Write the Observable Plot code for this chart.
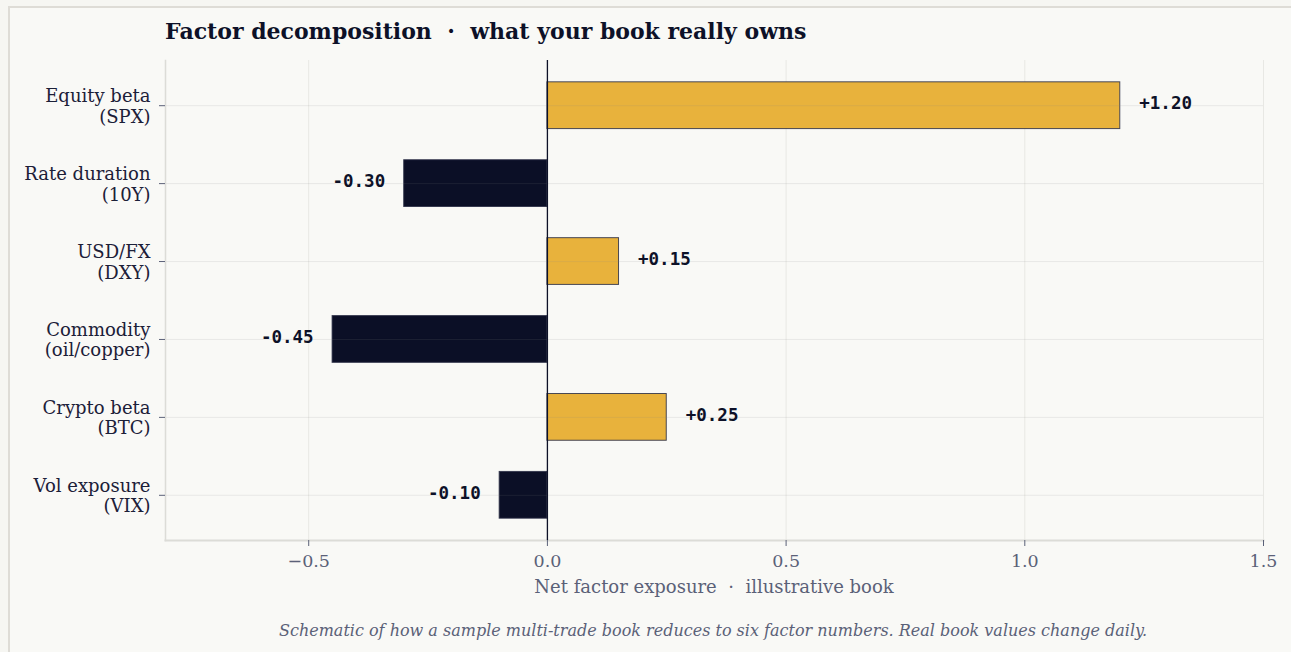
<!DOCTYPE html>
<html>
<head>
<meta charset="utf-8">
<script src="https://cdn.jsdelivr.net/npm/d3@7"></script>
<script src="https://cdn.jsdelivr.net/npm/@observablehq/plot@0.6"></script>
<style>
  html, body { margin: 0; padding: 0; background: #f6f6f2; width: 1291px; height: 652px; overflow: hidden; }
  #frame { position: absolute; left: 8px; top: 6px; width: 1400px; height: 700px; background: #f9f9f6;
           border-top: 2px solid #dedcd6; border-left: 2px solid #dedcd6; box-sizing: border-box; }
  #chart { position: absolute; left: 0; top: 0; }
  .txt { position: absolute; white-space: pre; font-family: "DejaVu Serif", serif; }
  #title { left: 165px; top: 18px; font-size: 22px; font-weight: bold; color: #0d1128; }
  #xlabel { left: 0; width: 1428px; top: 576px; text-align: center; font-size: 18px; color: #5b6178; }
  #caption { left: 0; width: 1426px; top: 621px; text-align: center; font-size: 16px; font-style: italic; color: #5b6178; }
</style>
</head>
<body>
<div id="frame"></div>
<div id="chart"></div>
<div class="txt" id="title">Factor decomposition  ·  what your book really owns</div>
<div class="txt" id="xlabel">Net factor exposure  ·  illustrative book</div>
<div class="txt" id="caption">Schematic of how a sample multi-trade book reduces to six factor numbers. Real book values change daily.</div>
<script>
const factorNames = ["Equity beta", "Rate duration", "USD/FX", "Commodity", "Crypto beta", "Vol exposure"];
const factorTickers = ["(SPX)", "(10Y)", "(DXY)", "(oil/copper)", "(BTC)", "(VIX)"];
const exposures = [1.20, -0.30, 0.15, -0.45, 0.25, -0.10];
const xTicks = [-0.5, 0, 0.5, 1.0, 1.5];

const labels = factorNames.map((n, i) => n + "\n" + factorTickers[i]);
const data = labels.map((f, i) => ({factor: f, value: exposures[i]}));
const fmt = v => (v > 0 ? "+" : "-") + Math.abs(v).toFixed(2);

const W = 1291, H = 600, mL = 165, mR = 28, mT = 60, mB = 60;
const yOpts = { domain: labels, paddingInner: 0.4, paddingOuter: 0.28, round: false };
const bw = Plot.scale({ y: { ...yOpts, range: [mT, H - mB] } }).bandwidth;

const labelStyle = { fontFamily: "DejaVu Sans Mono, monospace", fontWeight: "bold", fontSize: 17.5, fill: "#0d1128", dy: bw / 2 - 2 };

const chart = Plot.plot({
  width: W,
  height: H,
  marginLeft: mL,
  marginRight: mR,
  marginTop: mT,
  marginBottom: mB,
  style: { background: "transparent", fontFamily: "DejaVu Serif, serif", fontSize: "16px", overflow: "visible" },
  x: { domain: [-0.8, 1.5] },
  y: yOpts,
  marks: [
    Plot.gridX(xTicks, { stroke: "#e8e8e4", strokeOpacity: 1, strokeWidth: 1 }),
    Plot.barX(data, {
      x1: 0, x2: "value", y: "factor",
      fill: d => d.value >= 0 ? "#e8b23c" : "#0b0f26",
      stroke: "#2b2f46", strokeWidth: 1, strokeOpacity: 0.85
    }),
    Plot.gridY(labels, { stroke: "#888888", strokeOpacity: 0.14, strokeWidth: 1 }),
    Plot.frame({ anchor: "left", stroke: "#dcdcd7", strokeWidth: 1.5 }),
    Plot.frame({ anchor: "bottom", stroke: "#dcdcd7", strokeWidth: 2 }),
    Plot.ruleX([0], { stroke: "#0d1128", strokeWidth: 1.3 }),
    Plot.axisY({ tickSize: 6, tickPadding: 9, stroke: "#5b6178", fill: "#1c2038", fontSize: 18, lineHeight: 1.15, label: null }),
    Plot.axisX(xTicks, { tickSize: 6, tickPadding: 8, tickFormat: d3.format(".1f"), stroke: "#5b6178", fill: "#5b6178", fontSize: 17.5, label: null }),
    Plot.text(data.filter(d => d.value >= 0), {
      x: "value", y: "factor", text: d => fmt(d.value), textAnchor: "start", dx: 19, ...labelStyle
    }),
    Plot.text(data.filter(d => d.value < 0), {
      x: "value", y: "factor", text: d => fmt(d.value), textAnchor: "end", dx: -19, ...labelStyle
    })
  ]
});
document.getElementById("chart").appendChild(chart);
</script>
</body>
</html>
